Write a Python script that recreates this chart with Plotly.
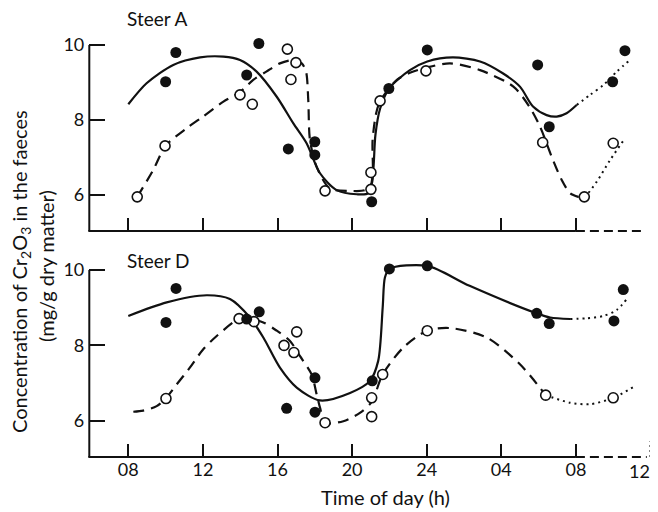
import plotly.graph_objects as go

# ---------------- data ----------------
# Steer A
A_filled_h = [10.0, 10.55, 14.35, 15.0, 16.58, 18.0, 18.0, 21.05, 21.97, 24.03, 29.95, 30.57, 33.97, 34.63]
A_filled_v = [9.02, 9.8, 9.2, 10.04, 7.23, 7.42, 7.07, 5.82, 8.84, 9.87, 9.47, 7.82, 9.02, 9.85]
A_open_h = [8.48, 9.97, 13.99, 14.65, 16.53, 16.99, 16.72, 18.55, 21.01, 21.01, 21.5, 23.96, 30.22, 32.45, 34.0]
A_open_v = [5.95, 7.31, 8.67, 8.42, 9.89, 9.53, 9.08, 6.11, 6.15, 6.6, 8.51, 9.31, 7.4, 5.95, 7.38]

A_solid_h = [8.0, 8.98, 10.41, 11.85, 13.1, 13.99, 14.88, 15.96, 16.85, 17.56, 18.28, 19.17, 20.25, 20.87,
             21.12, 21.25, 21.5, 22.0, 23.1, 24.03, 25.4, 26.86, 28.1, 29.0, 29.7, 30.43, 30.97, 31.5, 32.04]
A_solid_v = [8.42, 8.98, 9.47, 9.67, 9.69, 9.6, 9.29, 8.62, 7.91, 7.38, 6.58, 6.13, 6.02, 6.05,
             6.6, 7.6, 8.3, 8.85, 9.33, 9.56, 9.67, 9.56, 9.24, 8.89, 8.36, 8.13, 8.09, 8.18, 8.4]
A_solid_dot_h = [32.04, 32.76, 33.47, 34.19, 34.9]
A_solid_dot_v = [8.4, 8.67, 8.93, 9.29, 9.6]

A_dash_h = [8.48, 9.34, 10.0, 11.13, 12.0, 13.1, 14.0, 14.7, 15.4, 16.13, 16.85, 17.3, 17.53, 17.65, 17.74,
            18.1, 18.8, 19.89, 20.7, 21.05, 21.1, 21.29, 21.5, 22.4, 23.1, 24.0, 25.25, 26.86, 28.65,
            29.5, 30.08, 30.7, 31.24, 31.69, 32.13]
A_dash_v = [5.95, 6.67, 7.31, 7.78, 8.09, 8.49, 8.75, 9.07, 9.29, 9.51, 9.6, 9.51, 9.29, 8.53, 7.47,
            6.75, 6.18, 6.11, 6.13, 6.3, 7.47, 8.18, 8.5, 9.07, 9.26, 9.4, 9.51, 9.33, 8.89,
            8.36, 7.82, 7.02, 6.4, 6.05, 5.95]
A_dash_dot_h = [32.13, 32.45, 33.11, 33.83, 34.63]
A_dash_dot_v = [5.95, 5.95, 6.35, 6.93, 7.51]

# Steer D
D_filled_h = [10.56, 10.02, 14.35, 15.02, 16.49, 18.01, 18.01, 21.08, 22.0, 24.03, 29.9, 30.57, 34.04, 34.54]
D_filled_v = [9.51, 8.61, 8.7, 8.89, 6.33, 7.14, 6.23, 7.06, 10.03, 10.11, 8.85, 8.58, 8.65, 9.48]
D_open_h = [10.02, 13.94, 14.74, 16.35, 16.88, 17.03, 18.55, 21.05, 21.05, 21.64, 24.03, 30.38, 34.0]
D_open_v = [6.59, 8.71, 8.63, 8.0, 7.81, 8.36, 5.95, 6.61, 6.11, 7.23, 8.39, 6.68, 6.61]

D_solid_h = [8.0, 10.06, 12.2, 13.45, 14.52, 15.24, 16.13, 17.03, 18.28, 19.89, 20.96, 21.4, 21.64, 21.76,
             22.0, 24.03, 26.3, 29.9, 30.62, 31.69]
D_solid_v = [8.78, 9.14, 9.33, 9.23, 8.74, 8.21, 7.41, 6.88, 6.54, 6.74, 7.06, 7.59, 9.0, 9.8,
             10.03, 10.11, 9.58, 8.85, 8.74, 8.7]
D_solid_dot_h = [31.69, 32.58, 33.47, 34.19, 34.73]
D_solid_dot_v = [8.7, 8.72, 8.78, 8.94, 9.23]

D_dash_h = [8.27, 8.8, 9.52, 10.0, 10.6, 11.3, 12.02, 12.74, 13.94, 14.35, 15.24, 15.96, 16.67, 17.2, 17.83,
            18.1, 18.28, 18.55, 19.53, 20.42, 21.05, 21.64, 22.74, 24.03, 25.25, 27.22, 29.0, 30.38]
D_dash_v = [6.24, 6.27, 6.39, 6.59, 6.97, 7.41, 7.9, 8.25, 8.71, 8.72, 8.61, 8.39, 8.12, 7.72, 7.23,
            6.7, 6.35, 5.95, 5.99, 6.21, 6.5, 7.23, 7.94, 8.39, 8.46, 8.21, 7.5, 6.68]
D_dash_dot_h = [30.38, 31.69, 32.76, 34.0, 35.1]
D_dash_dot_v = [6.68, 6.48, 6.44, 6.61, 6.9]

tick_vals = [8, 12, 16, 20, 24, 28, 32]
tick_text = ["08", "12", "16", "20", "24", "04", "08"]
end_tick_val = 36
end_tick_text = "12"
y_tick_vals = [6, 8, 10]

# ---------------- layout geometry (page body has an 8px margin) ----------------
OFF = 8
W, H = 658 - OFF, 512 - OFF


def PX(rx):
    return (rx - OFF) / W


def PY(ry):
    return 1 - (ry - OFF) / H


X_LEFT_PX = 89.3
X_PX_PER_H = 18.65
X0 = 5.909
X1 = X0 + (658 - X_LEFT_PX) / X_PX_PER_H
Y0 = 5.04

UP_BOT_PX, UP_TOP_PX, UP_PX_PER_V = 231.0, 20.0, 37.5
LO_BOT_PX, LO_TOP_PX, LO_PX_PER_V = 457.0, 245.0, 37.7
UP_Y1 = Y0 + (UP_BOT_PX - UP_TOP_PX) / UP_PX_PER_V
LO_Y1 = Y0 + (LO_BOT_PX - LO_TOP_PX) / LO_PX_PER_V


def xp(h):
    return PX(X_LEFT_PX + (h - X0) * X_PX_PER_H)


def yp(v, panel):
    if panel == 1:
        return PY(UP_BOT_PX - (v - Y0) * UP_PX_PER_V)
    return PY(LO_BOT_PX - (v - Y0) * LO_PX_PER_V)


FONT = "Lato"
BLACK = "#111111"
DASH = "11px,7px"
DOT = "2px,4px"

fig = go.Figure()


def add_line(h, v, xa, ya, dash):
    fig.add_trace(go.Scatter(x=h, y=v, xaxis=xa, yaxis=ya, mode="lines",
                             line=dict(color=BLACK, width=2.2 if dash != DOT else 2.0,
                                       dash=dash, shape="spline", smoothing=0.8),
                             hoverinfo="skip", showlegend=False))


def add_pts(h, v, xa, ya, filled):
    fig.add_trace(go.Scatter(x=h, y=v, xaxis=xa, yaxis=ya, mode="markers", cliponaxis=False,
                             marker=dict(symbol="circle", size=11 if filled else 10,
                                         color=BLACK if filled else "white",
                                         line=dict(color=BLACK, width=0 if filled else 1.6)),
                             showlegend=False))


# Steer A
add_line(A_solid_h, A_solid_v, "x", "y", "solid")
add_line(A_solid_dot_h, A_solid_dot_v, "x", "y", DOT)
add_line(A_dash_h, A_dash_v, "x", "y", DASH)
add_line(A_dash_dot_h, A_dash_dot_v, "x", "y", DOT)
add_pts(A_open_h, A_open_v, "x", "y", False)
add_pts(A_filled_h, A_filled_v, "x", "y", True)
# Steer D
add_line(D_solid_h, D_solid_v, "x2", "y2", "solid")
add_line(D_solid_dot_h, D_solid_dot_v, "x2", "y2", DOT)
add_line(D_dash_h, D_dash_v, "x2", "y2", DASH)
add_line(D_dash_dot_h, D_dash_dot_v, "x2", "y2", DOT)
add_pts(D_open_h, D_open_v, "x2", "y2", False)
add_pts(D_filled_h, D_filled_v, "x2", "y2", True)

tickfont = dict(family=FONT, size=18, color=BLACK)
xcommon = dict(range=[X0, X1], domain=[PX(X_LEFT_PX), 1], showgrid=False, zeroline=False,
               showline=False, ticks="inside", ticklen=13, tickwidth=2, tickcolor=BLACK,
               tickvals=tick_vals, ticktext=tick_text, tickfont=tickfont, fixedrange=True)
ycommon = dict(showgrid=False, zeroline=False, showline=False, ticks="inside", ticklen=16,
               tickwidth=2, tickcolor=BLACK, tickvals=y_tick_vals, tickfont=tickfont,
               ticklabelstandoff=4, fixedrange=True)

fig.update_layout(
    width=W, height=H, margin=dict(l=0, r=0, t=0, b=0),
    paper_bgcolor="white", plot_bgcolor="white",
    xaxis=dict(**xcommon, anchor="y", showticklabels=False),
    yaxis=dict(**ycommon, range=[Y0, UP_Y1], anchor="x", domain=[PY(UP_BOT_PX), PY(UP_TOP_PX)]),
    xaxis2=dict(**xcommon, anchor="y2", showticklabels=True),
    yaxis2=dict(**ycommon, range=[Y0, LO_Y1], anchor="x2", domain=[PY(LO_BOT_PX), PY(LO_TOP_PX)]),
    showlegend=False,
)

# axis lines (paper coordinates)
shapes = []
for panel, dash_end in ((1, 35.55), (2, 35.8)):
    shapes.append(dict(type="line", xref="paper", yref="paper", x0=xp(X0), x1=xp(X0),
                       y0=yp(Y0, panel), y1=yp(10, panel), line=dict(color=BLACK, width=2)))
    shapes.append(dict(type="line", xref="paper", yref="paper", x0=xp(X0) - 0.0015, x1=xp(32),
                       y0=yp(Y0, panel), y1=yp(Y0, panel), line=dict(color=BLACK, width=2)))
    shapes.append(dict(type="line", xref="paper", yref="paper", x0=xp(32), x1=xp(dash_end),
                       y0=yp(Y0, panel), y1=yp(Y0, panel),
                       line=dict(color=BLACK, width=2, dash="9px,5px")))
# dotted end tick at 12 h (next day) and its label, kept inside the visible page
shapes.append(dict(type="line", xref="paper", yref="paper", x0=xp(end_tick_val), x1=xp(end_tick_val),
                   y0=yp(Y0, 2), y1=yp(Y0 + 0.42, 2), line=dict(color=BLACK, width=2, dash="2px,3px")))
fig.update_layout(shapes=shapes)
fig.add_annotation(text=end_tick_text, xref="paper", yref="paper", x=PX(652), y=PY(471),
                   xanchor="right", yanchor="middle", showarrow=False, font=tickfont)

lab_font = dict(family=FONT, size=19, color=BLACK)
fig.add_annotation(text="Steer A", xref="paper", yref="paper", x=PX(125), y=PY(18),
                   xanchor="left", yanchor="middle", showarrow=False, font=lab_font)
fig.add_annotation(text="Steer D", xref="paper", yref="paper", x=PX(125), y=PY(260),
                   xanchor="left", yanchor="middle", showarrow=False, font=lab_font)
fig.add_annotation(text="Time of day (h)", xref="paper", yref="paper", x=PX(385), y=PY(497),
                   xanchor="center", yanchor="middle", showarrow=False,
                   font=dict(family=FONT, size=20, color=BLACK))
fig.add_annotation(text="Concentration of Cr<sub>2</sub>O<sub>3</sub> in the faeces",
                   xref="paper", yref="paper", x=PX(20), y=PY(272), textangle=-90,
                   xanchor="center", yanchor="middle", showarrow=False,
                   font=dict(family=FONT, size=20, color=BLACK))
fig.add_annotation(text="(mg/g dry matter)", xref="paper", yref="paper", x=PX(46), y=PY(266),
                   textangle=-90, xanchor="center", yanchor="middle", showarrow=False,
                   font=dict(family=FONT, size=20, color=BLACK))

fig.write_html("out.html")
